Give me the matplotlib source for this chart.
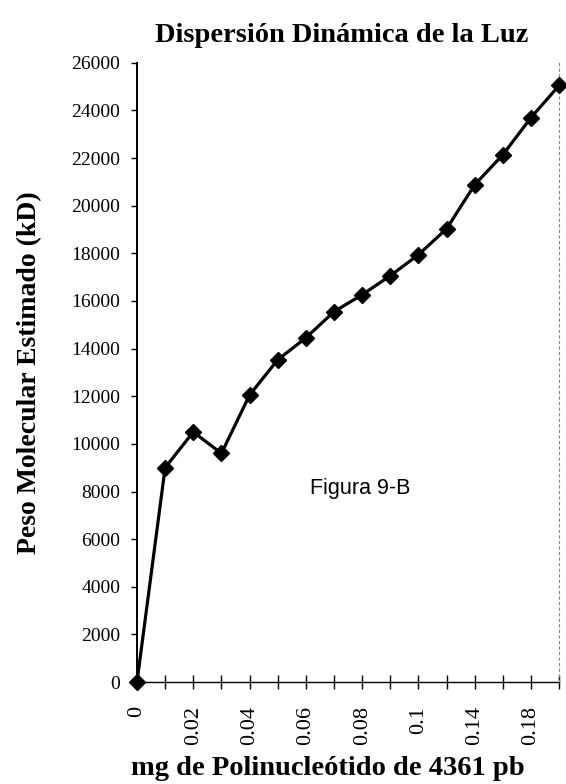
import matplotlib
matplotlib.use('Agg')
import matplotlib.pyplot as plt

plt.rcParams['font.family'] = ['Liberation Serif', 'DejaVu Serif']

# categorias del eje x (mg de polinucleotido)
categorias = ['0', '0.01', '0.02', '0.03', '0.04', '0.05', '0.06', '0.07',
              '0.08', '0.09', '0.1', '0.12', '0.14', '0.16', '0.18', '0.2']
# peso molecular estimado (kD)
peso = [0, 9000, 10500, 9600, 12050, 13530, 14450, 15550,
        16260, 17060, 17940, 19030, 20880, 22140, 23700, 25050]
y_ticks = list(range(0, 26001, 2000))

fig = plt.figure(figsize=(5.66, 7.84), dpi=100)
ax = fig.add_axes([0.242, 0.130, 0.746, 0.790])

x = list(range(len(categorias)))
ax.plot(x, peso, color='black', linewidth=2.3, marker='D', markersize=8,
        markerfacecolor='black', markeredgecolor='black', clip_on=False, zorder=5)

ax.set_xlim(0, len(categorias) - 1)
ax.set_ylim(0, 26000)

ax.set_yticks(y_ticks)
ax.set_yticklabels([str(v) for v in y_ticks], fontsize=14)
ax.tick_params(axis='y', direction='out', length=4, width=1, pad=8)

ax.set_xticks(x)
ax.set_xticklabels([c if i % 2 == 0 else '' for i, c in enumerate(categorias)],
                   rotation=90, fontsize=16)
ax.tick_params(axis='x', direction='inout', length=10, width=1, pad=12)

ax.spines['top'].set_visible(False)
ax.spines['right'].set_linestyle((0, (2, 3)))
ax.spines['right'].set_color('#888888')
ax.spines['right'].set_linewidth(0.8)
ax.spines['left'].set_linewidth(1.4)
ax.spines['bottom'].set_linewidth(1.0)

fig.text(0.603, 0.955, 'Dispersión Dinámica de la Luz', fontsize=20.5,
         fontweight='bold', ha='center', va='center')
ax.set_ylabel('Peso Molecular Estimado (kD)', fontsize=20, fontweight='bold')
ax.yaxis.set_label_coords(-0.255, 0.5)
ax.set_xlabel('mg de Polinucleótido de 4361 pb', fontsize=20.5, fontweight='bold')
ax.xaxis.set_label_coords(0.452, -0.14)
ax.xaxis.label.set_va('center')
ax.yaxis.label.set_va('center')

ax.text(0.41, 0.313, 'Figura 9-B', transform=ax.transAxes, fontsize=15.5,
        family='Liberation Sans', va='center', ha='left')

fig.savefig('out.png', dpi=100)
